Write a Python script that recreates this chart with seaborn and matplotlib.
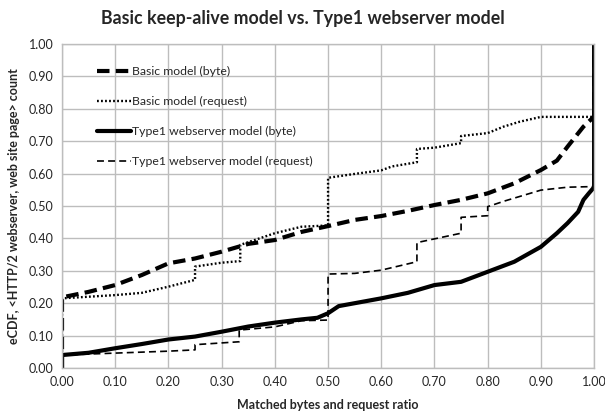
import matplotlib
matplotlib.use("Agg")
import matplotlib.pyplot as plt
import seaborn as sns
import pandas as pd
import numpy as np
from matplotlib.ticker import MultipleLocator, FormatStrFormatter

# ---- data ----
basic_byte_x = [0, 0, 0.05, 0.10, 0.15, 0.20, 0.25, 0.30, 0.35, 0.40, 0.45, 0.50, 0.55,
                0.60, 0.65, 0.70, 0.75, 0.80, 0.85, 0.90, 0.93, 0.95, 0.98, 1.00, 1.00]
basic_byte_y = [0, 0.218, 0.235, 0.256, 0.287, 0.323, 0.338, 0.359, 0.383, 0.395, 0.420, 0.438, 0.457,
                0.469, 0.485, 0.503, 0.519, 0.539, 0.570, 0.611, 0.640, 0.683, 0.745, 0.776, 1.0]

basic_req_x = [0, 0, 0.10, 0.15, 0.20, 0.25, 0.25, 0.30, 0.335, 0.335, 0.40, 0.45, 0.50, 0.50,
               0.55, 0.60, 0.62, 0.667, 0.667, 0.70, 0.75, 0.75, 0.80, 0.83, 0.86, 0.90, 1.00, 1.00]
basic_req_y = [0, 0.215, 0.225, 0.232, 0.251, 0.272, 0.313, 0.325, 0.330, 0.380, 0.416, 0.436, 0.440, 0.587,
               0.599, 0.610, 0.622, 0.635, 0.676, 0.680, 0.694, 0.716, 0.725, 0.745, 0.760, 0.775, 0.775, 1.0]

type1_byte_x = [0, 0, 0.05, 0.10, 0.15, 0.20, 0.25, 0.30, 0.35, 0.40, 0.45, 0.48, 0.50, 0.52,
                0.55, 0.60, 0.65, 0.70, 0.75, 0.80, 0.85, 0.90, 0.93, 0.95, 0.97, 0.98, 0.99, 1.00, 1.00]
type1_byte_y = [0, 0.040, 0.047, 0.061, 0.074, 0.088, 0.097, 0.112, 0.128, 0.140, 0.150, 0.155, 0.169, 0.191,
                0.200, 0.215, 0.232, 0.256, 0.266, 0.297, 0.328, 0.374, 0.416, 0.447, 0.482, 0.519, 0.539, 0.558, 1.0]

type1_req_x = [0, 0, 0.10, 0.20, 0.25, 0.25, 0.333, 0.333, 0.40, 0.45, 0.50, 0.50, 0.55, 0.60,
               0.667, 0.667, 0.75, 0.75, 0.80, 0.80, 0.833, 0.90, 0.95, 1.00, 1.00]
type1_req_y = [0, 0.040, 0.046, 0.052, 0.056, 0.072, 0.081, 0.117, 0.127, 0.146, 0.148, 0.290, 0.292, 0.302,
               0.328, 0.387, 0.416, 0.465, 0.470, 0.498, 0.516, 0.549, 0.558, 0.560, 1.0]

labels = ["Basic model (byte)", "Basic model (request)",
          "Type1 webserver model (byte)", "Type1 webserver model (request)"]
title = "Basic keep-alive model vs. Type1 webserver model"
xlabel = "Matched bytes and request ratio"
ylabel = "eCDF, <HTTP/2 webserver, web site page> count"

sns.set_theme(style="white")
plt.rcParams['font.family'] = ['Lato', 'DejaVu Sans']
plt.rcParams['lines.scale_dashes'] = False

fig = plt.figure(figsize=(6.05, 4.11), dpi=100)
ax = fig.add_axes([0.1025, 0.1046, 0.8795, 0.7884])

series = [
    (basic_byte_x, basic_byte_y, dict(linewidth=3.0, linestyle=(0, (9, 4.5)))),
    (basic_req_x, basic_req_y, dict(linewidth=1.7, linestyle=(0, (1.3, 1.6)))),
    (type1_byte_x, type1_byte_y, dict(linewidth=3.0, linestyle='-')),
    (type1_req_x, type1_req_y, dict(linewidth=1.2, linestyle=(0, (5, 3)))),
]
for (xs, ys, st), lab in zip(series, labels):
    df = pd.DataFrame({"x": xs, "y": ys})
    sns.lineplot(data=df, x="x", y="y", ax=ax, sort=False, estimator=None,
                 color="black", label=lab, **st)

ax.set_xlim(0, 1)
ax.set_ylim(0, 1)
ax.xaxis.set_major_locator(MultipleLocator(0.1))
ax.yaxis.set_major_locator(MultipleLocator(0.1))
ax.xaxis.set_major_formatter(FormatStrFormatter('%.2f'))
ax.yaxis.set_major_formatter(FormatStrFormatter('%.2f'))
ax.grid(True, color='#bdbdbd', linewidth=1.0)
ax.set_axisbelow(True)
for s in ax.spines.values():
    s.set_color('#bdbdbd')
    s.set_linewidth(1.0)
ax.tick_params(axis='both', labelsize=9, length=0, pad=6)

ax.set_xlabel(xlabel, fontsize=9, fontweight='bold', labelpad=8)
ax.set_ylabel(ylabel, fontsize=9, fontweight='bold', labelpad=6)
fig.suptitle(title, fontsize=12.8, fontweight='bold', x=0.5, y=0.975)

leg = ax.legend(loc='upper left', bbox_to_anchor=(0.045, 0.965), frameon=False,
                fontsize=8.8, handlelength=2.8, handletextpad=0.1, labelspacing=1.55)

fig.savefig("out.png", dpi=100)
